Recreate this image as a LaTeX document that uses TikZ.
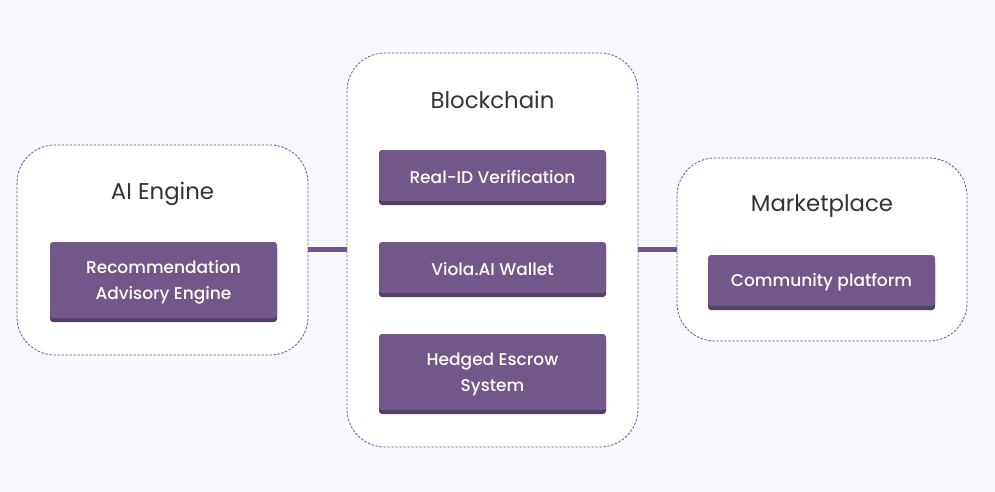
\documentclass[tikz,border=0pt]{standalone}
\usepackage{fontspec}
\setmainfont{Poppins}
\newfontfamily\pmed{Poppins Medium}
\definecolor{bg}{HTML}{F8F9FE}
\definecolor{boxfill}{HTML}{72578A}
\definecolor{boxshadow}{HTML}{524066}
\definecolor{dashc}{HTML}{6E5590}
\definecolor{linkc}{HTML}{6E5590}
\definecolor{titlec}{HTML}{333333}
\begin{document}
\begin{tikzpicture}[x=1pt,y=-1pt,
  container/.style={draw=dashc, dashed, dash pattern=on 2.5pt off 1.5pt, line width=0.8pt, fill=white, rounded corners=38pt},
  title/.style={font=\fontsize{22.8}{26}\selectfont, text=titlec},
  itembox/.style={text=white, font=\pmed\fontsize{17}{26}\selectfont, align=center},
  link/.style={draw=linkc, line width=5pt}
]
\fill[bg] (0,0) rectangle (995,492);
\useasboundingbox (0,0) rectangle (995,492);
% containers
\draw[container] (17,145) rectangle (308,355);
\draw[container] (347,53) rectangle (638,447);
\draw[container] (677,158) rectangle (967,341);
\coordinate (aiR) at (308,249);
\coordinate (bcL) at (347,249);
\coordinate (bcR) at (638,249);
\coordinate (mkL) at (677,249);
\draw[link] (aiR) -- (bcL);
\draw[link] (bcR) -- (mkL);
% titles
\node[title] (tai) at (162.5,193.5) {AI Engine};
\node[title] (tbc) at (492.5,100) {Blockchain};
\node[title] (tmk) at (822,206.5) {Marketplace};
% item boxes (shadow + body)
\fill[boxshadow, rounded corners=3pt] (50,246) rectangle (277,322);
\fill[boxfill, rounded corners=3pt] (50,242) rectangle (277,318);
\node[itembox] (rec) at (163.5,282.5) {Recommendation\\Advisory Engine};
\fill[boxshadow, rounded corners=3pt] (379,154) rectangle (606,205);
\fill[boxfill, rounded corners=3pt] (379,150) rectangle (606,201);
\node[itembox] (rid) at (492.5,177) {Real-ID Verification};
\fill[boxshadow, rounded corners=3pt] (379,246) rectangle (606,297);
\fill[boxfill, rounded corners=3pt] (379,242) rectangle (606,293);
\node[itembox] (wal) at (492.5,269) {Viola.AI Wallet};
\fill[boxshadow, rounded corners=3pt] (379,338) rectangle (606,414);
\fill[boxfill, rounded corners=3pt] (379,334) rectangle (606,410);
\node[itembox] (esc) at (492.5,374.5) {Hedged Escrow\\System};
\fill[boxshadow, rounded corners=3pt] (708,259) rectangle (935,310);
\fill[boxfill, rounded corners=3pt] (708,255) rectangle (935,306);
\node[itembox] (com) at (821.5,282) {Community platform};
\end{tikzpicture}
\end{document}
